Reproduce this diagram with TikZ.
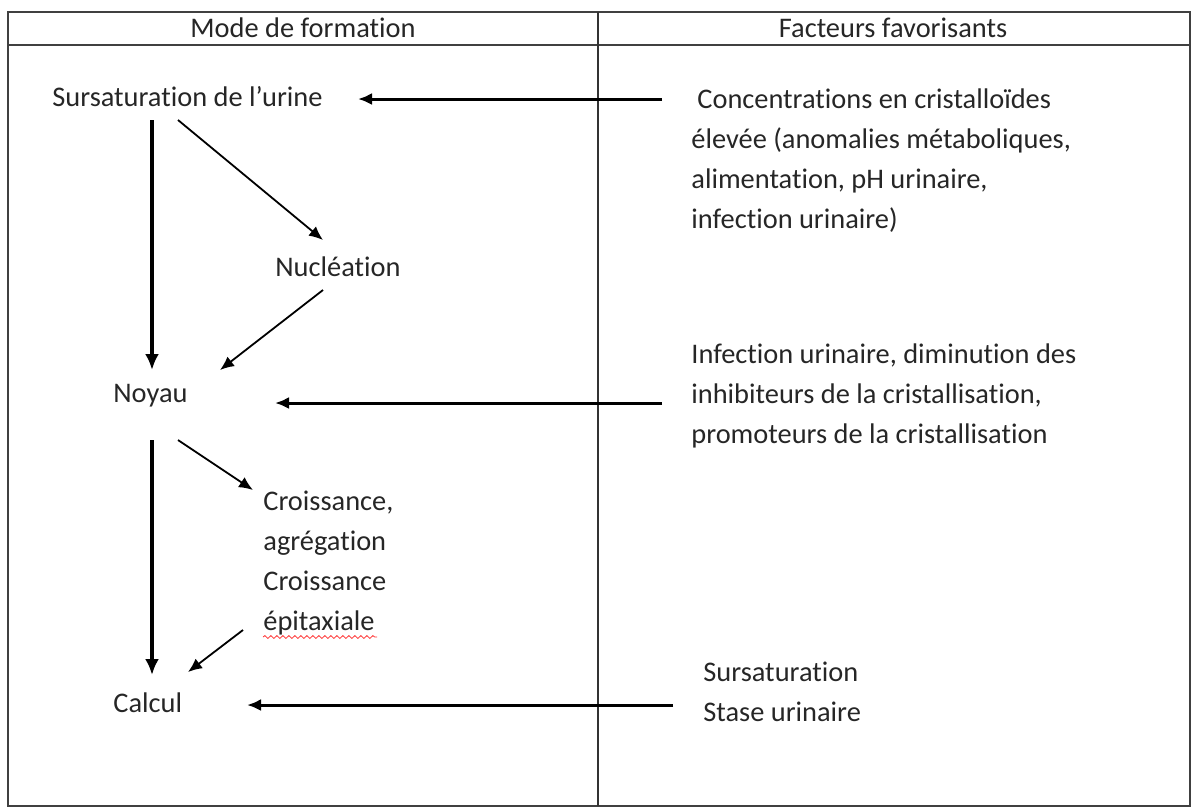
\documentclass[tikz,border=0pt]{standalone}
\usepackage{fontspec}
\setmainfont{Carlito}[Ligatures=NoCommon]
\usetikzlibrary{arrows.meta, decorations.pathmorphing}

\begin{document}
\begin{tikzpicture}[x=0.5pt, y=-0.5pt,
    every node/.style={font=\fontsize{14.2}{20}\selectfont, inner sep=0pt, text=black!85},
    texte/.style={anchor=west, align=left},
    fleche/.style={-{Latex[length=7pt, width=6pt]}, line width=0.9pt},
    fleche large/.style={-{Latex[length=7pt, width=6pt]}, line width=1.5pt},
    grosse/.style={-{Latex[length=8pt, width=7pt]}, line width=2pt}]

    \useasboundingbox (0,0) rectangle (1193,810);

    % Table frame
    \draw[line width=1pt, black!75] (8,12) rectangle (1190,806);
    \draw[line width=0.8pt, black!75] (8,45) -- (1190,45);
    \draw[line width=0.6pt, black!80] (598,12) -- (598,806);

    % Headers
    \node (mode) at (303,28) {Mode de formation};
    \node (facteurs) at (893,28) {Facteurs favorisants};

    % Mode de formation
    \node[texte] (sursat) at (52,97) {Sursaturation de l’urine};
    \node[texte] (nucleation) at (275,267) {Nucléation};
    \node[texte] (noyau) at (113,396) {Noyau};
    \node[texte] (croissance) at (263,563) {Croissance,\\agrégation\\Croissance\\épitaxiale};
    \node[texte] (calcul) at (113,703) {Calcul};

    % Facteurs favorisants
    \node[texte] (conc) at (691,161) {\hspace*{3pt}Concentrations en cristalloïdes\\élevée (anomalies métaboliques,\\alimentation, pH urinaire,\\infection urinaire)};
    \node[texte] (infection) at (691,396) {Infection urinaire, diminution des\\inhibiteurs de la cristallisation,\\promoteurs de la cristallisation};
    \node[texte] (stase) at (703,692) {Sursaturation\\Stase urinaire};

    % Arrow ends
    \coordinate (conc-g) at (662,99);
    \coordinate (sursat-d) at (358,99);
    \coordinate (sursat-b) at (152,120);
    \coordinate (sursat-bd) at (178,120);
    \coordinate (nucleation-h) at (323,240);
    \coordinate (nucleation-b) at (323,290);
    \coordinate (noyau-h) at (152,370);
    \coordinate (noyau-hd) at (220,370);
    \coordinate (infection-g) at (662,403);
    \coordinate (noyau-d) at (275,403);
    \coordinate (noyau-b) at (152,440);
    \coordinate (noyau-bd) at (178,440);
    \coordinate (croissance-h) at (253,490);
    \coordinate (croissance-b) at (243,630);
    \coordinate (calcul-hd) at (188,672);
    \coordinate (calcul-h) at (152,675);
    \coordinate (stase-g) at (673,705);
    \coordinate (calcul-d) at (247,705);

    % Draw arrows
    \draw[fleche large] (conc-g) -- (sursat-d);
    \draw[grosse] (sursat-b) -- (noyau-h);
    \draw[fleche] (sursat-bd) -- (nucleation-h);
    \draw[fleche] (nucleation-b) -- (noyau-hd);
    \draw[fleche large] (infection-g) -- (noyau-d);
    \draw[grosse] (noyau-b) -- (calcul-h);
    \draw[fleche] (noyau-bd) -- (croissance-h);
    \draw[fleche] (croissance-b) -- (calcul-hd);
    \draw[fleche large] (stase-g) -- (calcul-d);

    % Spell check underline
    \draw[red!80, line width=0.4pt, decorate, decoration={snake, amplitude=0.7pt, segment length=3pt}]
        (263,637) -- (377,637);

\end{tikzpicture}
\end{document}
